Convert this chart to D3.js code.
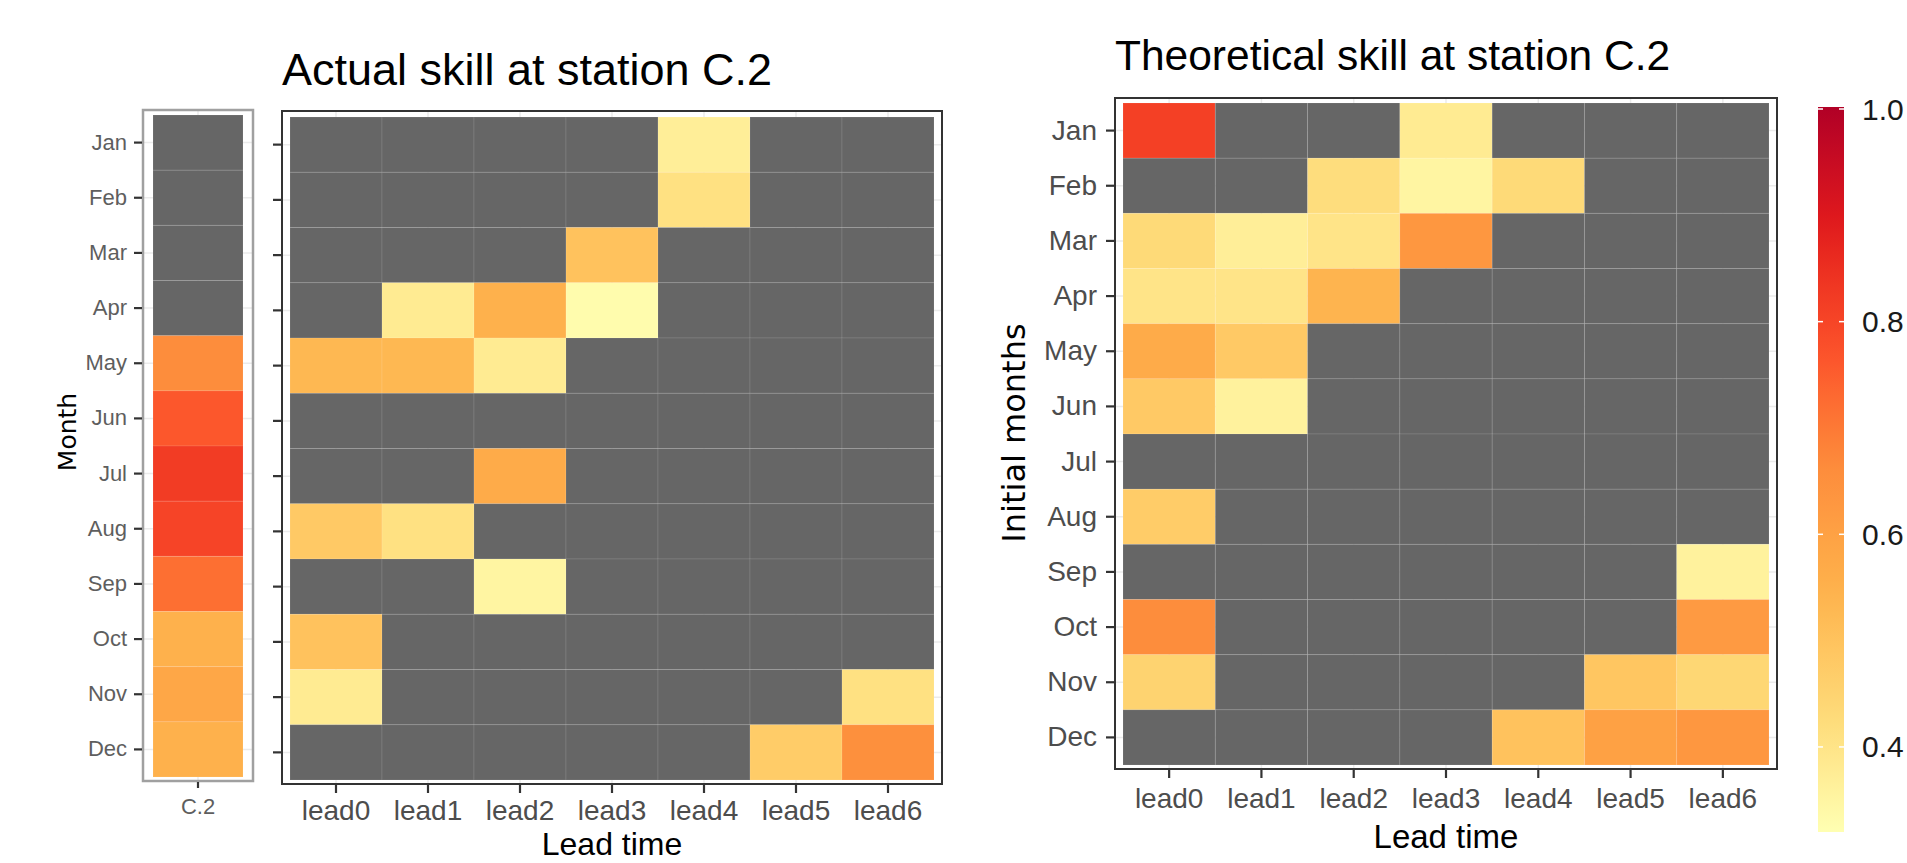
<!DOCTYPE html>
<html>
<head>
<meta charset="utf-8">
<script src="https://cdn.jsdelivr.net/npm/d3@7"></script>
<style>
  body { margin: 0; background: #fff; }
  text { font-family: "Liberation Sans", Arial, sans-serif; }
</style>
</head>
<body>
<div id="chart"></div>
<script>
var w = 1907;
var h = 863;

// categories
var months = ["Jan","Feb","Mar","Apr","May","Jun","Jul","Aug","Sep","Oct","Nov","Dec"];
var leads = ["lead0","lead1","lead2","lead3","lead4","lead5","lead6"];
var stations = ["C.2"];

// station strip (one value per month, null = not significant)
var stationSkill = [null, null, null, null, 0.66, 0.76, 0.82, 0.80, 0.72, 0.55, 0.58, 0.55];

// actual skill, rows = months, cols = lead0..lead6
var actualSkill = [
  [null, null, null, null, 0.37, null, null],
  [null, null, null, null, 0.41, null, null],
  [null, null, null, 0.50, null, null, null],
  [null, 0.38, 0.55, 0.33, null, null, null],
  [0.53, 0.53, 0.38, null, null, null, null],
  [null, null, null, null, null, null, null],
  [null, null, 0.57, null, null, null, null],
  [0.48, 0.41, null, null, null, null, null],
  [null, null, 0.35, null, null, null, null],
  [0.50, null, null, null, null, null, null],
  [0.38, null, null, null, null, null, 0.41],
  [null, null, null, null, null, 0.47, 0.65]
];

// theoretical skill
var theoreticalSkill = [
  [0.81, null, null, 0.38, null, null, null],
  [null, null, 0.42, 0.35, 0.43, null, null],
  [0.43, 0.37, 0.40, 0.63, null, null, null],
  [0.40, 0.40, 0.54, null, null, null, null],
  [0.57, 0.48, null, null, null, null, null],
  [0.48, 0.36, null, null, null, null, null],
  [null, null, null, null, null, null, null],
  [0.47, null, null, null, null, null, null],
  [null, null, null, null, null, null, 0.36],
  [0.66, null, null, null, null, null, 0.62],
  [0.45, null, null, null, null, 0.49, 0.44],
  [null, null, null, null, 0.50, 0.60, 0.63]
];

var legendTicks = [0.4, 0.6, 0.8, 1.0];
var fillMin = 0.32;
var fillMax = 1.0;
var naColor = "#666666";

// YlOrRd distiller palette
var palette = ["#FFFFB2","#FED976","#FEB24C","#FD8D3C","#FC4E2A","#E31A1C","#B10026"];
var colorScale = d3.scaleLinear()
                   .domain(palette.map((c, i) => fillMin + i * (fillMax - fillMin) / (palette.length - 1)))
                   .range(palette)
                   .interpolate(d3.interpolateLab);

var svg;

function toCells(matrix, cols) {
  var cells = [];
  matrix.forEach((row, i) => {
    row.forEach((v, j) => {
      cells.push({month: months[i], col: cols[j], value: v});
    });
  });
  return cells;
}

function styleAxis(g, color, size) {
  g.select(".domain").remove();
  g.selectAll(".tick line").attr("stroke", "#333").attr("stroke-width", 2.2);
  g.selectAll(".tick text")
   .attr("fill", color)
   .style("font-size", size + "px")
   .style("font-family", "'Liberation Sans', Arial, sans-serif");
}

function Heatmap(p) {
  var xScale = d3.scaleBand().domain(p.cols).range([p.x0, p.x1]);
  var yScale = d3.scaleBand().domain(months).range([p.y0, p.y1]);
  var g = svg.append("g");

  // faint grid showing in the expansion margin
  g.selectAll(".gy")
   .data(months)
   .enter()
   .append("line")
   .attr("x1", p.bx0).attr("x2", p.bx1)
   .attr("y1", d => yScale(d) + yScale.bandwidth() / 2)
   .attr("y2", d => yScale(d) + yScale.bandwidth() / 2)
   .attr("stroke", "#ebebeb").attr("stroke-width", 1.5);
  g.selectAll(".gx")
   .data(p.cols)
   .enter()
   .append("line")
   .attr("y1", p.by0).attr("y2", p.by1)
   .attr("x1", d => xScale(d) + xScale.bandwidth() / 2)
   .attr("x2", d => xScale(d) + xScale.bandwidth() / 2)
   .attr("stroke", "#ebebeb").attr("stroke-width", 1.5);

  g.selectAll("rect.tile")
   .data(p.cells)
   .enter()
   .append("rect")
   .attr("class", "tile")
   .attr("x", d => xScale(d.col))
   .attr("y", d => yScale(d.month))
   .attr("width", xScale.bandwidth())
   .attr("height", yScale.bandwidth())
   .attr("fill", d => d.value == null ? naColor : colorScale(d.value))
   .attr("stroke", "rgba(255,255,255,0.10)")
   .attr("stroke-width", 1);

  // panel border
  g.append("rect")
   .attr("x", p.bx0).attr("y", p.by0)
   .attr("width", p.bx1 - p.bx0).attr("height", p.by1 - p.by0)
   .attr("fill", "none")
   .attr("stroke", p.borderColor)
   .attr("stroke-width", p.borderWidth);

  var yAxis = d3.axisLeft(yScale).tickSize(8).tickPadding(p.yPad);
  if (!p.yLabels) yAxis.tickFormat("");
  svg.append("g")
     .attr("transform", "translate(" + (p.bx0 - 1) + ",0)")
     .call(yAxis)
     .call(a => styleAxis(a, p.tickColor, p.ySize));

  svg.append("g")
     .attr("transform", "translate(0," + (p.by1 + 1) + ")")
     .call(d3.axisBottom(xScale).tickSize(p.xTick).tickPadding(p.xPad))
     .call(a => styleAxis(a, p.tickColor, p.xSize));
}

function Legend() {
  var top = 107, bottom = 832, left = 1818, right = 1844;
  var yLeg = d3.scaleLinear().domain([fillMin, fillMax]).range([bottom, top + 2]);

  var grad = svg.append("defs").append("linearGradient")
                .attr("id", "legGrad")
                .attr("x1", 0).attr("y1", 1).attr("x2", 0).attr("y2", 0);
  d3.range(0, 1.0001, 0.05).forEach(t => {
    grad.append("stop")
        .attr("offset", t)
        .attr("stop-color", colorScale(fillMin + t * (fillMax - fillMin)));
  });

  svg.append("rect")
     .attr("x", left).attr("y", top)
     .attr("width", right - left).attr("height", bottom - top)
     .attr("fill", "url(#legGrad)");

  var t = svg.selectAll(".legtick").data(legendTicks).enter().append("g");
  t.append("line")
   .attr("x1", left).attr("x2", left + 5)
   .attr("y1", d => yLeg(d)).attr("y2", d => yLeg(d))
   .attr("stroke", "#fff").attr("stroke-width", 1.5);
  t.append("line")
   .attr("x1", right - 5).attr("x2", right)
   .attr("y1", d => yLeg(d)).attr("y2", d => yLeg(d))
   .attr("stroke", "#fff").attr("stroke-width", 1.5);
  t.append("text")
   .attr("x", 1862)
   .attr("y", d => yLeg(d))
   .attr("dy", "0.35em")
   .attr("fill", "#1a1a1a")
   .style("font-size", "30px")
   .text(d => d3.format(".1f")(d));
}

function main() {
  svg = d3.select("#chart")
          .append("svg")
          .attr("width", w)
          .attr("height", h);

  // left: station strip
  Heatmap({
    cols: stations,
    cells: stationSkill.map((v, i) => ({month: months[i], col: stations[0], value: v})),
    x0: 153, x1: 243, y0: 115, y1: 777,
    bx0: 143, bx1: 253, by0: 110, by1: 781,
    borderColor: "#a0a0a0", borderWidth: 2.5,
    yLabels: true, yPad: 7, ySize: 22,
    xTick: 6, xPad: 10, xSize: 22,
    tickColor: "#5e5e5e"
  });

  // left: actual skill
  Heatmap({
    cols: leads,
    cells: toCells(actualSkill, leads),
    x0: 290, x1: 934, y0: 117, y1: 780,
    bx0: 282, bx1: 942, by0: 111, by1: 784,
    borderColor: "#333", borderWidth: 2,
    yLabels: false, yPad: 6, ySize: 22,
    xTick: 8, xPad: 7, xSize: 28,
    tickColor: "#4d4d4d"
  });

  // right: theoretical skill
  Heatmap({
    cols: leads,
    cells: toCells(theoreticalSkill, leads),
    x0: 1123, x1: 1769, y0: 103, y1: 765,
    bx0: 1115, bx1: 1777, by0: 98, by1: 769,
    borderColor: "#333", borderWidth: 2,
    yLabels: true, yPad: 9, ySize: 28,
    xTick: 8, xPad: 10, xSize: 28,
    tickColor: "#4d4d4d"
  });

  Legend();

  // titles
  svg.append("text")
     .attr("x", 282).attr("y", 85)
     .style("font-size", "44px")
     .attr("textLength", 490)
     .attr("lengthAdjust", "spacingAndGlyphs")
     .attr("fill", "#000")
     .text("Actual skill at station C.2");
  svg.append("text")
     .attr("x", 1115).attr("y", 70)
     .style("font-size", "42.5px")
     .attr("fill", "#000")
     .text("Theoretical skill at station C.2");

  // axis titles
  svg.append("text")
     .attr("x", 612).attr("y", 855)
     .attr("text-anchor", "middle")
     .style("font-size", "32px")
     .text("Lead time");
  svg.append("text")
     .attr("x", 1446).attr("y", 848)
     .attr("text-anchor", "middle")
     .style("font-size", "33px")
     .text("Lead time");
  svg.append("text")
     .attr("transform", "translate(76,432) rotate(-90)")
     .attr("text-anchor", "middle")
     .style("font-family", "'DejaVu Sans', sans-serif")
     .style("font-size", "25px")
     .text("Month");
  svg.append("text")
     .attr("transform", "translate(1025,433) rotate(-90)")
     .attr("text-anchor", "middle")
     .style("font-family", "'DejaVu Sans', sans-serif")
     .style("font-size", "32px")
     .text("Initial months");
}

window.onload = function() {
  main();
};
</script>
</body>
</html>
